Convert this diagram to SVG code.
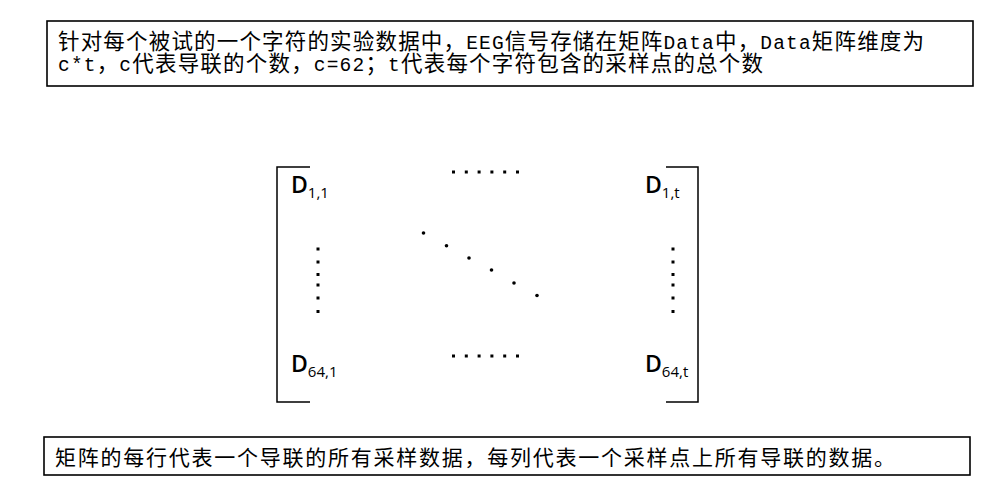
<svg xmlns="http://www.w3.org/2000/svg" width="995" height="490" viewBox="0 0 995 490">
<style>
.box{fill:#fff;stroke:#000;stroke-width:1.6}
.t1{font-family:"Noto Sans CJK SC",sans-serif;font-size:21.5px;fill:#000}
.lat{font-family:"Liberation Mono","DejaVu Sans Mono",monospace;font-size:19.5px}
.t2{font-family:"Noto Sans CJK SC",sans-serif;font-size:21px;fill:#000}
.D{font-family:"Open Sans","Liberation Sans",sans-serif;font-weight:600;font-size:23px;fill:#000}
.sub{font-size:15px;font-weight:500}
.br{fill:none;stroke:#000;stroke-width:1.5}
.dot{fill:#000}
</style>
<rect width="995" height="490" fill="#fff"/>
<g id="note-top">
<rect class="box" x="47" y="21" width="926" height="65"/>
<text class="t1" x="58" y="49" textLength="866" lengthAdjust="spacing">针对每个被试的一个字符的实验数据中，<tspan class="lat">EEG</tspan>信号存储在矩阵<tspan class="lat">Data</tspan>中，<tspan class="lat">Data</tspan>矩阵维度为</text>
<text class="t1" x="58" y="71" textLength="705" lengthAdjust="spacing"><tspan class="lat">c*t</tspan>，<tspan class="lat">c</tspan>代表导联的个数，<tspan class="lat">c=62</tspan>；<tspan class="lat">t</tspan>代表每个字符包含的采样点的总个数</text>
</g>
<g id="matrix">
<g id="bracket-left"><path class="br" d="M310,167 H277 V402 H310"/></g>
<g id="bracket-right"><path class="br" d="M666,167 H698 V402 H666"/></g>
<g id="d11"><text class="D" x="291" y="193">D<tspan class="sub" dy="5">1,1</tspan></text></g>
<g id="d1t"><text class="D" x="645" y="193">D<tspan class="sub" dy="5">1,t</tspan></text></g>
<g id="d641"><text class="D" x="291" y="372">D<tspan class="sub" dy="5">64,1</tspan></text></g>
<g id="d64t"><text class="D" x="645" y="372">D<tspan class="sub" dy="5">64,t</tspan></text></g>
<g id="dots-top">
<rect class="dot" x="452" y="170.5" width="3" height="3"/><rect class="dot" x="464.8" y="170.5" width="3" height="3"/><rect class="dot" x="477.6" y="170.5" width="3" height="3"/><rect class="dot" x="490.4" y="170.5" width="3" height="3"/><rect class="dot" x="503.2" y="170.5" width="3" height="3"/><rect class="dot" x="516" y="170.5" width="3" height="3"/>
</g>
<g id="dots-bottom">
<rect class="dot" x="452" y="354.5" width="3" height="3"/><rect class="dot" x="464.8" y="354.5" width="3" height="3"/><rect class="dot" x="477.6" y="354.5" width="3" height="3"/><rect class="dot" x="490.4" y="354.5" width="3" height="3"/><rect class="dot" x="503.2" y="354.5" width="3" height="3"/><rect class="dot" x="516" y="354.5" width="3" height="3"/>
</g>
<g id="dots-left">
<rect class="dot" x="316.5" y="247.5" width="3" height="3"/><rect class="dot" x="316.5" y="260.5" width="3" height="3"/><rect class="dot" x="316.5" y="273" width="3" height="3"/><rect class="dot" x="316.5" y="283.5" width="3" height="3"/><rect class="dot" x="316.5" y="296.5" width="3" height="3"/><rect class="dot" x="316.5" y="310" width="3" height="3"/>
</g>
<g id="dots-right">
<rect class="dot" x="671.5" y="247.5" width="3" height="3"/><rect class="dot" x="671.5" y="260.5" width="3" height="3"/><rect class="dot" x="671.5" y="273" width="3" height="3"/><rect class="dot" x="671.5" y="283.5" width="3" height="3"/><rect class="dot" x="671.5" y="296.5" width="3" height="3"/><rect class="dot" x="671.5" y="310" width="3" height="3"/>
</g>
<g id="dots-diagonal">
<circle class="dot" cx="423.5" cy="233" r="1.8"/><circle class="dot" cx="446.5" cy="245.7" r="1.8"/><circle class="dot" cx="469" cy="258" r="1.8"/><circle class="dot" cx="491.5" cy="270" r="1.8"/><circle class="dot" cx="514" cy="283" r="1.8"/><circle class="dot" cx="537" cy="295.5" r="1.8"/>
</g>
</g>
<g id="note-bottom">
<rect class="box" x="44" y="437" width="926" height="38"/>
<text class="t2" x="55" y="465" textLength="840" lengthAdjust="spacing">矩阵的每行代表一个导联的所有采样数据，每列代表一个采样点上所有导联的数据。</text>
</g>
</svg>
